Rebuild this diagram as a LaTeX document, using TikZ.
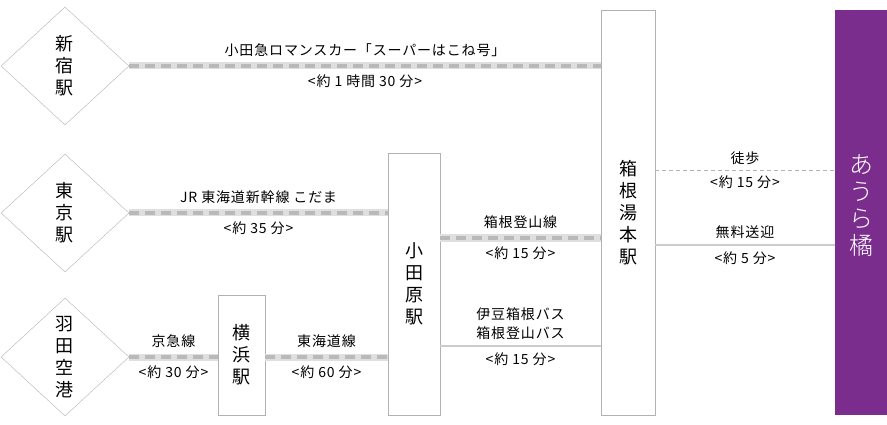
\documentclass[tikz,border=0pt]{standalone}
\usepackage{fontspec}
\setmainfont{Noto Sans CJK JP}[LetterSpace=6]
\newfontfamily\logofont{Noto Sans CJK JP Light}
\definecolor{auraviolet}{RGB}{123,45,142}
\usetikzlibrary{shapes.geometric}

\begin{document}
\begin{tikzpicture}[x=1pt,y=-1pt,font=\fontsize{14}{19}\selectfont,
	station/.style={draw=gray!60,diamond,aspect=1.08,minimum width=128pt,minimum height=118pt,inner sep=0pt,align=center,font=\fontsize{18}{22}\selectfont},
	stop/.style={draw=gray!60,rectangle,inner sep=0pt,align=center,font=\fontsize{18}{22}\selectfont},
	rail/.style={draw=gray!25,line width=7pt,postaction={draw=gray!55,line width=4pt,dash pattern=on 10pt off 6pt}},
	bus/.style={draw=gray!40,line width=2.5pt},
	walk/.style={draw=gray!60,line width=0.6pt,dash pattern=on 4pt off 3pt},
	lbl/.style={inner sep=1pt}]
	\useasboundingbox (0,0) rectangle (887,425);
	% stations
	\node[station] (shinjuku) at (65,66) {新\\宿\\駅};
	\node[station] (tokyo) at (65,213) {東\\京\\駅};
	\node[station] (haneda) at (65,357) {羽\\田\\空\\港};
	\node[stop,minimum width=47pt,minimum height=120pt] (yokohama) at (241.5,355) {横\\浜\\駅};
	\node[stop,minimum width=52pt,minimum height=262pt] (odawara) at (414,284) {小\\田\\原\\駅};
	\node[stop,minimum width=54pt,minimum height=405pt] (hakone) at (628,212.5) {箱\\根\\湯\\本\\駅};
	\node[fill=auraviolet,draw=none,minimum width=52pt,minimum height=405pt] (aura) at (861,212.5) {};
	\node[text=white,align=center,font=\logofont\fontsize{24}{27}\selectfont] (logo) at (861,205) {あ\\う\\ら\\橘};
	% lines
	\path[rail] (shinjuku.east) -- (hakone.west |- shinjuku.east)
		node[midway,lbl,above=5pt] {小田急ロマンスカー「スーパーはこね号」}
		node[midway,lbl,below=4pt] {<約 1 時間 30 分>};
	\path[rail] (tokyo.east) -- (odawara.west |- tokyo.east)
		node[midway,lbl,above=5pt] {JR 東海道新幹線 こだま}
		node[midway,lbl,below=4pt] {<約 35 分>};
	\path[rail] (haneda.east) -- (yokohama.west |- haneda.east)
		node[midway,lbl,above=5pt] {京急線}
		node[midway,lbl,below=4pt] {<約 30 分>};
	\path[rail] (yokohama.east |- haneda.east) -- (odawara.west |- haneda.east)
		node[midway,lbl,above=5pt] {東海道線}
		node[midway,lbl,below=4pt] {<約 60 分>};
	\path[rail] (odawara.east |- 0,238) -- (hakone.west |- 0,238)
		node[midway,lbl,above=5pt] {箱根登山線}
		node[midway,lbl,below=4pt] {<約 15 分>};
	\path[bus] (odawara.east |- 0,346) -- (hakone.west |- 0,346)
		node[midway,lbl,above=4pt,align=center] {伊豆箱根バス\\箱根登山バス}
		node[midway,lbl,below=4pt] {<約 15 分>};
	\path[walk] (hakone.east |- 0,170) -- (aura.west |- 0,170)
		node[midway,lbl,above=4pt] {徒歩}
		node[midway,lbl,below=4pt] {<約 15 分>};
	\path[bus] (hakone.east |- 0,245) -- (aura.west |- 0,245)
		node[midway,lbl,above=4pt] {無料送迎}
		node[midway,lbl,below=4pt] {<約 5 分>};
\end{tikzpicture}
\end{document}
